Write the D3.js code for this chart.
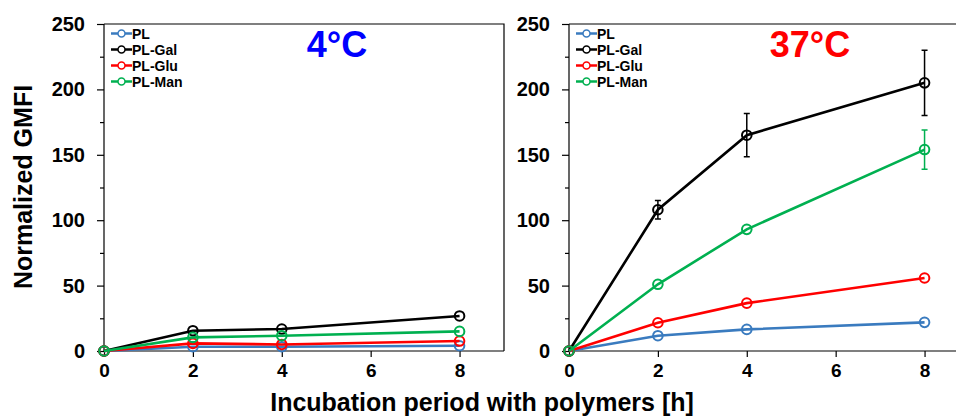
<!DOCTYPE html>
<html><head><meta charset="utf-8">
<script src="https://cdn.jsdelivr.net/npm/d3@7"></script>
<style>body{margin:0;background:#fff}svg{display:block;font-family:"Liberation Sans",Arial,sans-serif;font-weight:bold}</style>
</head><body><svg id="c" width="956" height="416"></svg>
<script>
const hours = [0, 2, 4, 8];
const seriesNames = ["PL", "PL-Gal", "PL-Glu", "PL-Man"];
const seriesColors = ["#3a7bbf", "#000000", "#ff0000", "#00b050"];
const yTicks = [0, 50, 100, 150, 200, 250];
const xTicks = [0, 2, 4, 6, 8];
// 4°C panel
const cold_PL  = [0, 3.3, 3.3, 4];
const cold_Gal = [0, 15.5, 16.8, 26.8];
const cold_Glu = [0, 5.8, 5.0, 7.6];
const cold_Man = [0, 10.4, 11.7, 15];
// 37°C panel
const warm_PL  = [0, 11.7, 16.5, 21.9];
const warm_Gal = [0, 108, 165, 205];
const warm_Glu = [0, 21.6, 36.6, 55.8];
const warm_Man = [0, 51, 93, 154];
const warm_Gal_err = [0, 7, 16.5, 25];
const warm_Man_err = [0, 0, 0, 15];

const svg = d3.select("#c");
const yTop = 24, yBot = 351;
const y = d3.scaleLinear().domain([0, 250]).range([yBot, yTop]);
const FF = "Liberation Sans, Arial, sans-serif";

const panels = [
  {x0: 104, title: "4°C", tcol: "#0000ff", tx: 337,
   data: [cold_PL, cold_Gal, cold_Glu, cold_Man], err: [null, null, null, null]},
  {x0: 569, title: "37°C", tcol: "#ff0000", tx: 810,
   data: [warm_PL, warm_Gal, warm_Glu, warm_Man], err: [null, warm_Gal_err, null, warm_Man_err]}
];

panels.forEach(p => {
  const x = d3.scaleLinear().domain([0, 9]).range([p.x0, p.x0 + 400]);
  const g = svg.append("g");
  g.append("path").attr("d", `M${p.x0},${yTop}H${p.x0+400}V${yBot}`)
    .attr("fill", "none").attr("stroke", "#000").attr("stroke-width", 1.2);
  // y axis (major + minor ticks)
  const ya = g.append("g").attr("transform", `translate(${p.x0},0)`)
    .call(d3.axisLeft(y).tickValues(d3.range(0, 251, 25)).tickSize(7)
      .tickFormat(d => yTicks.includes(d) ? d : ""));
  ya.selectAll(".tick").filter(d => !yTicks.includes(d)).select("line").attr("x2", -4);
  ya.selectAll("text").attr("font-size", 20).attr("font-weight", "bold").attr("x", -19)
    .attr("font-family", FF).attr("fill", "#000");
  const xa = g.append("g").attr("transform", `translate(0,${yBot})`)
    .call(d3.axisBottom(x).tickValues(xTicks).tickSize(6).tickFormat(d3.format("d")));
  xa.selectAll("text").attr("font-size", 19).attr("font-weight", "bold").attr("y", 13)
    .attr("font-family", FF).attr("fill", "#000");
  [ya, xa].forEach(a => { a.select(".domain").attr("stroke-width", 1.2); a.selectAll(".tick line").attr("stroke-width", 1.2); });
  xa.select(".domain").attr("d", `M${p.x0},0H${p.x0+400}`);
  ya.select(".domain").attr("d", `M0,${yTop}V${yBot}`);

  const line = d3.line().x((d, i) => x(hours[i])).y(d => y(d));
  p.data.forEach((vals, si) => {
    const col = seriesColors[si];
    const e = p.err[si];
    if (e) {
      hours.forEach((h, i) => {
        if (!e[i]) return;
        const cx = x(h), t = y(vals[i] + e[i]), b = y(vals[i] - e[i]);
        g.append("path").attr("d", `M${cx},${t}V${b}M${cx-3},${t}H${cx+3}M${cx-3},${b}H${cx+3}`)
          .attr("stroke", col).attr("stroke-width", 1.5).attr("fill", "none");
      });
    }
    g.append("path").datum(vals).attr("d", line).attr("fill", "none")
      .attr("stroke", col).attr("stroke-width", 2.6);
    g.selectAll(null).data(vals).enter().append("circle")
      .attr("cx", (d, i) => x(hours[i])).attr("cy", d => y(d)).attr("r", 4.8)
      .attr("fill", "none").attr("stroke", col).attr("stroke-width", 2);
  });
  seriesNames.forEach((n, i) => {
    const ly = 33.5 + i * 16;
    const lx = p.x0 + 7;
    g.append("line").attr("x1", lx).attr("x2", lx + 21).attr("y1", ly).attr("y2", ly)
      .attr("stroke", seriesColors[i]).attr("stroke-width", 2.5);
    g.append("circle").attr("cx", lx + 10.5).attr("cy", ly).attr("r", 3.5)
      .attr("fill", "#fff").attr("stroke", seriesColors[i]).attr("stroke-width", 1.5);
    g.append("text").attr("x", lx + 21).attr("y", ly + 5).attr("font-size", 14)
      .attr("fill", "#000").text(n);
  });
  g.append("text").attr("x", p.tx).attr("y", 57).attr("text-anchor", "middle")
    .attr("font-size", 36).attr("fill", p.tcol).text(p.title);
});

svg.append("text").attr("transform", "translate(32,187) rotate(-90)").attr("text-anchor", "middle")
  .attr("font-size", 25).attr("fill", "#000").text("Normalized GMFI");
svg.append("text").attr("x", 482).attr("y", 411).attr("text-anchor", "middle")
  .attr("font-size", 25).attr("fill", "#000").text("Incubation period with polymers [h]");
</script></body></html>
